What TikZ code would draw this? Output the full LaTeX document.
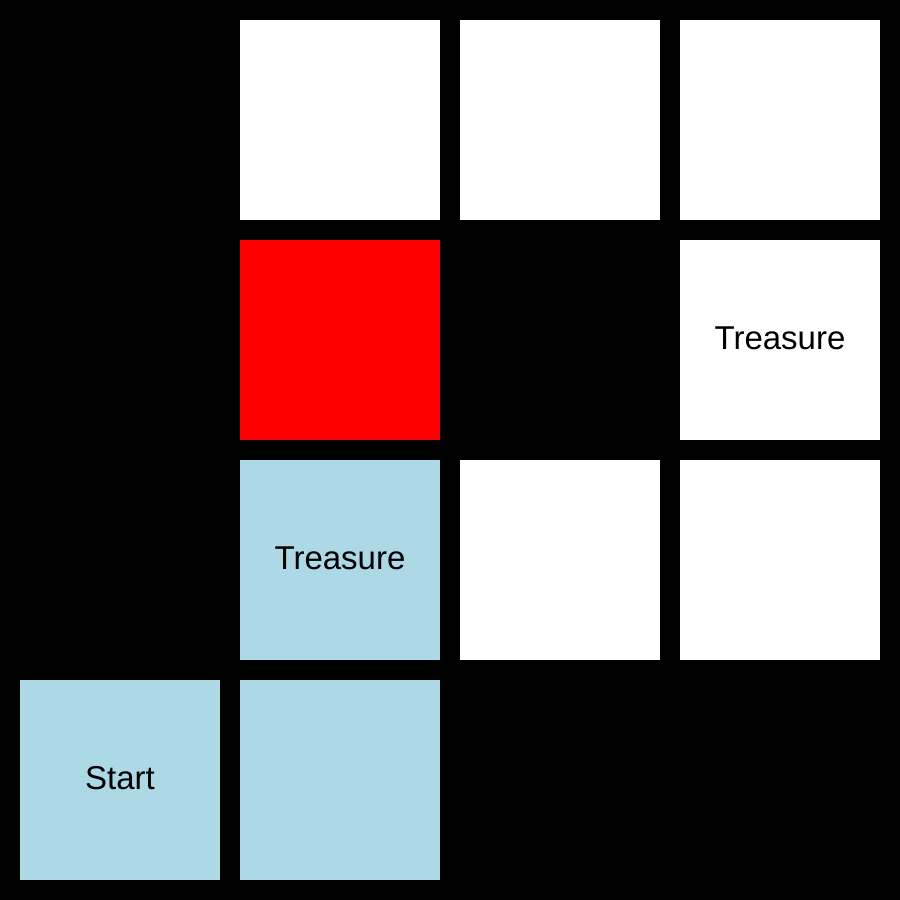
\documentclass[tikz,border=0pt]{standalone}
\usepackage{fontspec}
\setmainfont{Liberation Sans}
\definecolor{lblue}{RGB}{173,216,230}
\begin{document}
\begin{tikzpicture}[x=1pt,y=1pt,
  cell/.style={minimum width=200pt,minimum height=200pt,inner sep=0pt,draw=none,anchor=center},
  wcell/.style={cell,fill=white},
  bcell/.style={cell,fill=lblue},
  rcell/.style={cell,fill=red},
  lbl/.style={font=\fontsize{33}{36}\selectfont,inner sep=0pt}]
\fill[black] (0,0) rectangle (900,900);
\useasboundingbox (0,0) rectangle (900,900);
% row 0 (top)
\node[wcell] (c01) at (340,780) {};
\node[wcell] (c02) at (560,780) {};
\node[wcell] (c03) at (780,780) {};
% row 1
\node[rcell] (c11) at (340,560) {};
\node[wcell] (c13) at (780,560) {};
% row 2
\node[bcell] (c21) at (340,340) {};
\node[wcell] (c22) at (560,340) {};
\node[wcell] (c23) at (780,340) {};
% row 3
\node[bcell] (c30) at (120,120) {};
\node[bcell] (c31) at (340,120) {};
% labels
\node[lbl] (t13) at ([yshift=2pt]c13.center) {Treasure};
\node[lbl] (t21) at ([yshift=2pt]c21.center) {Treasure};
\node[lbl] (t30) at ([yshift=2pt]c30.center) {Start};
\end{tikzpicture}
\end{document}
